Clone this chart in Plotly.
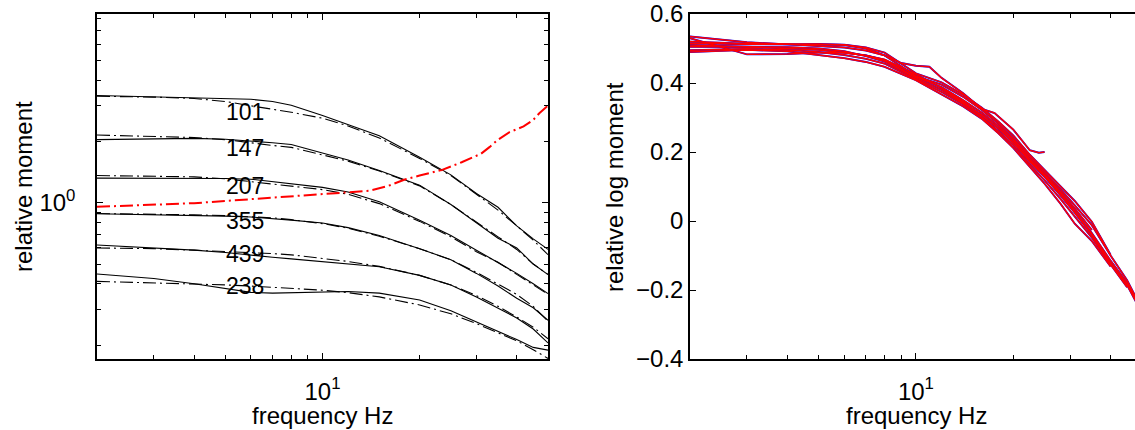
import numpy as np
import plotly.graph_objects as go

W, H = 1135, 430

# ---- left panel: relative moment vs frequency (log-log) ----
freq = [2, 3, 4, 5, 6, 7, 8, 10, 12, 15, 20, 25, 30, 35, 40, 45, 50]

m101 = [3.36, 3.31, 3.27, 3.25, 3.22, 3.14, 3.01, 2.68, 2.42, 2.13, 1.67, 1.37, 1.11, 0.95, 0.77, 0.665, 0.59]
m101_fit = [3.33, 3.30, 3.25, 3.14, 2.99, 2.88, 2.78, 2.60, 2.38, 2.08, 1.65, 1.36, 1.10, 0.92, 0.77, 0.655, 0.556]
m147 = [2.04, 2.06, 2.07, 2.05, 2.01, 1.97, 1.93, 1.76, 1.62, 1.44, 1.22, 0.98, 0.80, 0.67, 0.60, 0.50, 0.444]
m147_fit = [2.15, 2.12, 2.09, 2.04, 1.96, 1.91, 1.87, 1.72, 1.60, 1.43, 1.21, 0.98, 0.80, 0.68, 0.59, 0.50, 0.445]
m207 = [1.32, 1.32, 1.32, 1.315, 1.305, 1.27, 1.24, 1.19, 1.13, 1.01, 0.82, 0.69, 0.585, 0.51, 0.45, 0.40, 0.358]
m207_fit = [1.36, 1.35, 1.34, 1.31, 1.27, 1.23, 1.20, 1.16, 1.10, 0.99, 0.81, 0.68, 0.575, 0.51, 0.445, 0.395, 0.355]
m355 = [0.883, 0.875, 0.868, 0.86, 0.851, 0.838, 0.822, 0.795, 0.755, 0.69, 0.595, 0.525, 0.45, 0.39, 0.34, 0.305, 0.265]
m355_fit = [0.885, 0.88, 0.872, 0.864, 0.855, 0.843, 0.826, 0.79, 0.75, 0.685, 0.595, 0.525, 0.455, 0.40, 0.355, 0.31, 0.262]
m439 = [0.62, 0.60, 0.585, 0.57, 0.556, 0.54, 0.53, 0.515, 0.503, 0.485, 0.44, 0.395, 0.345, 0.305, 0.272, 0.24, 0.205]
m439_fit = [0.60, 0.595, 0.585, 0.577, 0.57, 0.563, 0.555, 0.535, 0.515, 0.487, 0.44, 0.395, 0.35, 0.31, 0.275, 0.245, 0.215]
m238 = [0.447, 0.425, 0.40, 0.378, 0.363, 0.36, 0.362, 0.365, 0.367, 0.36, 0.333, 0.295, 0.26, 0.235, 0.213, 0.195, 0.189]
m238_fit = [0.411, 0.405, 0.40, 0.395, 0.39, 0.385, 0.38, 0.372, 0.362, 0.345, 0.315, 0.285, 0.255, 0.23, 0.21, 0.19, 0.172]

ratio_freq = [2, 3, 4, 5, 6, 8, 10, 12, 14, 16, 18, 20, 23.5, 27, 31, 33, 35, 38, 42, 45, 47, 50]
ratio = [0.955, 0.975, 0.995, 1.02, 1.04, 1.075, 1.105, 1.12, 1.145, 1.21, 1.30, 1.36, 1.45, 1.58, 1.74, 1.88, 2.04, 2.22, 2.37, 2.55, 2.75, 3.0]

labels = ["101", "147", "207", "355", "439", "238"]
label_y = [2.80, 1.86, 1.21, 0.81, 0.561, 0.389]
label_f = 5.75

# ---- right panel: relative log moment ----
log_freq = [2, 2.5, 3, 4, 5, 6, 7, 8, 10, 12, 14, 16, 18, 20, 22.5, 25, 28, 31, 35, 40, 45, 50]
lm_a = [0.530, 0.505, 0.483, 0.484, 0.488, 0.488, 0.480, 0.468, 0.425, 0.385, 0.345, 0.305, 0.268, 0.228, 0.175, 0.132, 0.080, 0.028, -0.035, -0.115, -0.180, -0.262]
lm_b = [0.535, 0.525, 0.518, 0.512, 0.508, 0.503, 0.494, 0.480, 0.420, 0.395, 0.360, 0.322, 0.282, 0.240, 0.186, 0.142, 0.092, 0.045, -0.012, -0.100, -0.172, -0.255]
lm_c = [0.520, 0.516, 0.514, 0.512, 0.513, 0.511, 0.503, 0.488, 0.428, 0.402, 0.366, 0.328, 0.288, 0.248, 0.192, 0.148, 0.102, 0.058, -0.002, -0.098]
lm_d = [0.505, 0.505, 0.505, 0.504, 0.500, 0.492, 0.478, 0.462, 0.415, 0.380, 0.342, 0.308, 0.268, 0.228, 0.172, 0.128, 0.074, 0.024, -0.040, -0.122, -0.186, -0.266]
lm_e = [0.495, 0.498, 0.499, 0.496, 0.490, 0.481, 0.470, 0.456, 0.410, 0.374, 0.338, 0.300, 0.260, 0.220, 0.164, 0.118, 0.064, 0.012, -0.048, -0.126, -0.192]
lm_f = [0.490, 0.494, 0.496, 0.492, 0.482, 0.472, 0.461, 0.447, 0.408, 0.368, 0.332, 0.296, 0.254, 0.212, 0.156, 0.108, 0.050, -0.008, -0.058, -0.132]
lm_g = [0.510, 0.508, 0.505, 0.500, 0.496, 0.488, 0.480, 0.466, 0.418, 0.388, 0.350, 0.314, 0.275, 0.235, 0.180, 0.135, 0.085, 0.036, -0.026]

short_freq = [2, 2.5, 3, 4, 5, 6, 7, 8, 9, 10, 11, 12, 14, 16, 17.5, 20, 22.5, 24, 25]
lm_short = [0.515, 0.513, 0.512, 0.512, 0.512, 0.510, 0.500, 0.480, 0.458, 0.450, 0.447, 0.415, 0.370, 0.325, 0.313, 0.265, 0.205, 0.198, 0.200]

DASHDOT = "13px,4px,2px,4px"
FONT = "Liberation Sans, Arial, Helvetica, sans-serif"

fig = go.Figure()

pairs = [(m101, m101_fit), (m147, m147_fit), (m207, m207_fit),
         (m355, m355_fit), (m439, m439_fit), (m238, m238_fit)]
for meas, fit in pairs:
    fig.add_trace(go.Scatter(x=freq, y=meas, mode="lines",
                             line=dict(color="black", width=1.1),
                             xaxis="x", yaxis="y"))
    fig.add_trace(go.Scatter(x=freq, y=fit, mode="lines",
                             line=dict(color="black", width=1.1, dash=DASHDOT),
                             xaxis="x", yaxis="y"))

fig.add_trace(go.Scatter(x=ratio_freq, y=ratio, mode="lines",
                         line=dict(color="#ff0000", width=2, dash=DASHDOT),
                         xaxis="x", yaxis="y"))

right_curves = [(log_freq, lm_a), (log_freq, lm_b), (log_freq, lm_c), (log_freq, lm_d),
                (log_freq, lm_e), (log_freq, lm_f), (log_freq, lm_g), (short_freq, lm_short)]
# blue underneath, red drawn over it
for fr, vals in right_curves:
    fig.add_trace(go.Scatter(x=fr[:len(vals)], y=vals, mode="lines",
                             line=dict(color="#0000ff", width=1.9),
                             xaxis="x2", yaxis="y2"))
for fr, vals in right_curves:
    fig.add_trace(go.Scatter(x=fr[:len(vals)], y=vals, mode="lines",
                             line=dict(color="#ff0000", width=1.5),
                             xaxis="x2", yaxis="y2"))

left_dom = [97 / W, 548 / W]
right_dom = [690 / W, 1.0]
y_dom = [1 - 359 / H, 1 - 14 / H]

axis_common = dict(showline=True, linecolor="black", linewidth=1.5, ticks="inside",
                   ticklen=6, tickcolor="black", tickwidth=1, showgrid=False,
                   zeroline=False, tickfont=dict(size=24, color="black", family=FONT),
                   automargin=False, ticklabeloverflow="allow")
minor_x = dict(ticks="inside", ticklen=4, tickcolor="black", tickwidth=1,
               tickmode="array", tickvals=[3, 4, 5, 6, 7, 8, 9, 20, 30, 40])

fig.update_layout(
    width=W, height=H,
    margin=dict(l=0, r=0, t=0, b=0),
    paper_bgcolor="white", plot_bgcolor="white",
    showlegend=False,
    font=dict(family=FONT, size=24, color="black"),
    xaxis=dict(axis_common, type="log", domain=left_dom, anchor="y", mirror="ticks",
               range=[np.log10(2), np.log10(50)], ticklabelstandoff=10,
               tickmode="array", tickvals=[10], ticktext=["10<sup>1</sup>"],
               minor=minor_x),
    yaxis=dict(axis_common, type="log", domain=y_dom, anchor="x", mirror="ticks",
               range=[np.log10(0.171), np.log10(8.44)], ticklabelstandoff=15,
               tickmode="array", tickvals=[1], ticktext=["10<sup>0</sup>"],
               minor=dict(ticks="inside", ticklen=4, tickcolor="black", tickwidth=1,
                          tickmode="array",
                          tickvals=[0.2, 0.3, 0.4, 0.5, 0.6, 0.7, 0.8, 0.9, 2, 3, 4, 5, 6, 7, 8])),
    xaxis2=dict(axis_common, type="log", domain=right_dom, anchor="y2", mirror="ticks",
                range=[np.log10(2), np.log10(47.6)], ticklabelstandoff=10,
                tickmode="array", tickvals=[10], ticktext=["10<sup>1</sup>"],
                minor=minor_x),
    yaxis2=dict(axis_common, domain=y_dom, anchor="x2", mirror=False,
                range=[-0.4, 0.6], tickmode="array",
                tickvals=[-0.4, -0.2, 0, 0.2, 0.4, 0.6]),
)

for text, yv in zip(labels, label_y):
    fig.add_annotation(text=text, x=np.log10(label_f), y=np.log10(yv), xref="x", yref="y",
                       showarrow=False, xanchor="center", yanchor="middle",
                       font=dict(size=23, color="black", family=FONT))


def px(x, y):
    return x / W, 1 - y / H


titles = [("relative moment", 23, 187, -90), ("relative log moment", 614, 187, -90),
          ("frequency Hz", 322, 415, 0), ("frequency Hz", 916, 415, 0)]
for text, x, y, ang in titles:
    xp, yp = px(x, y)
    fig.add_annotation(text=text, x=xp, y=yp, xref="paper", yref="paper",
                       showarrow=False, textangle=ang, xanchor="center", yanchor="middle",
                       font=dict(size=24, color="black", family=FONT))

# drop the default 8px body margin so the figure sits at the page corner
fig.write_html("out.html", config={"displayModeBar": False},
               post_script="document.body.style.margin = '0';")
